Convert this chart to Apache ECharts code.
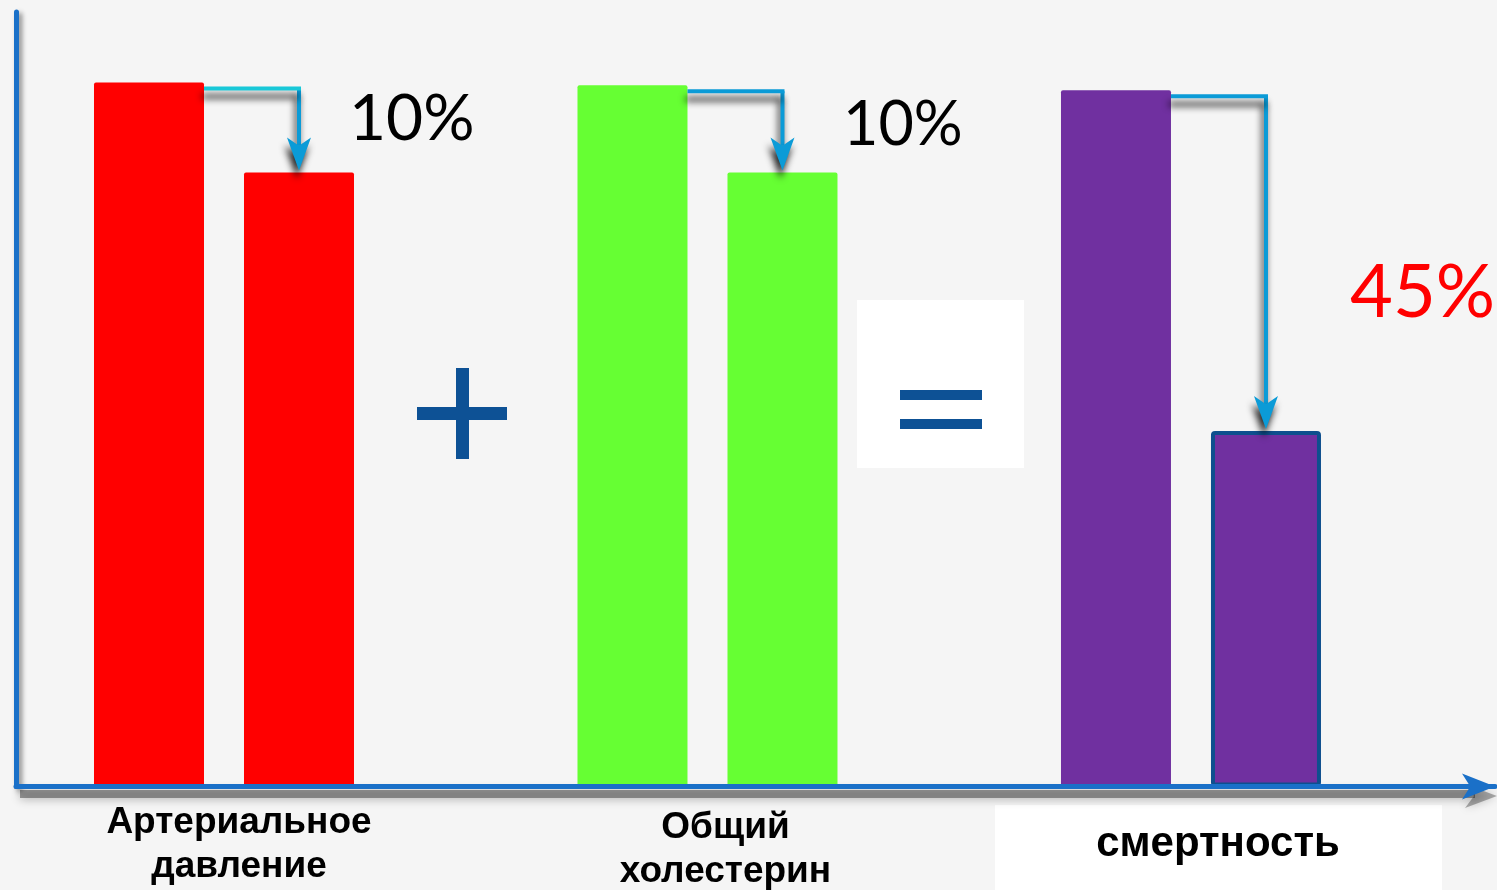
<!DOCTYPE html>
<html>
<head>
<meta charset="utf-8">
<script src="https://cdn.jsdelivr.net/npm/echarts@6/dist/echarts.min.js"></script>
<style>
  html, body { margin: 0; padding: 0; background: #f5f5f5; }
  #chart { width: 1497px; height: 890px; }
</style>
</head>
<body>
<div id="chart"></div>
<script>
// Risk factors and outcome, level before and after the reduction
const categories = ['Артериальное\nдавление', 'Общий\nхолестерин', 'смертность'];
const beforeValues = [100, 99.6, 98.9];
const afterValues = [87.2, 87.2, 50.5];
const reductionLabels = ['10%', '10%', '45%'];

const barColors = ['#ff0000', '#66ff33', '#7030a0'];
const labelColors = ['#000000', '#000000', '#ff0000'];
const AXIS_BLUE = '#1a70c8';
const SIGN_BLUE = '#0d5195';
const ARROW_BLUE = '#0b9bd7';

const BAR_WIDTH = 110;
const BAR_GAP = 40;

const chart = echarts.init(document.getElementById('chart'), null, { renderer: 'canvas' });

const beforeData = beforeValues.map((v, i) => ({
  value: [i, v],
  itemStyle: { color: barColors[i] }
}));
const afterData = afterValues.map((v, i) => ({
  value: [i, v],
  itemStyle: i === 2
    ? { color: barColors[i], borderColor: '#0e4f8e', borderWidth: 4 }
    : { color: barColors[i] }
}));
const connectorData = categories.map((c, i) => [i, beforeValues[i], afterValues[i]]);

// per-category padding shifts the axis name under its pair of bars
const labelRich = {
  c0: { padding: [0, 0, 0, 30] },
  c1: { padding: [10, 0, 0, 36] },
  c2: { padding: [44, 0, 0, 54], fontSize: 42 }
};

const option = {
  backgroundColor: '#f5f5f5',
  animation: false,
  grid: { left: 16, right: 2, top: 12, bottom: 103, containLabel: false },
  xAxis: {
    type: 'value',
    min: -0.4302,
    max: 2.6288,
    z: 4,
    splitLine: { show: false },
    axisTick: { show: false },
    axisLine: {
      show: true,
      onZero: false,
      symbol: ['none', 'arrow'],
      symbolSize: [19.5, 33],
      lineStyle: { color: AXIS_BLUE, width: 5 }
    },
    axisLabel: {
      show: true,
      customValues: [0, 1, 2],
      margin: 14,
      color: '#000',
      fontFamily: 'Liberation Sans',
      fontWeight: 'bold',
      fontSize: 37,
      lineHeight: 44,
      rich: labelRich,
      formatter: function (value) {
        const i = Math.round(value);
        return '{c' + i + '|' + categories[i] + '}';
      }
    }
  },
  yAxis: {
    type: 'value',
    min: 0,
    max: 110,
    z: 4,
    splitLine: { show: false },
    axisTick: { show: false },
    axisLabel: { show: false },
    axisLine: {
      show: true,
      onZero: false,
      lineStyle: {
        color: AXIS_BLUE, width: 5,
        shadowColor: 'rgba(0,0,0,0.45)', shadowBlur: 5, shadowOffsetX: 3, shadowOffsetY: 3
      }
    }
  },
  series: [
    {
      name: 'до',
      type: 'bar',
      barWidth: BAR_WIDTH,
      barGap: (BAR_GAP / BAR_WIDTH * 100) + '%',
      itemStyle: { borderRadius: 2 },
      data: beforeData
    },
    {
      name: 'после',
      type: 'bar',
      barWidth: BAR_WIDTH,
      itemStyle: { borderRadius: 2 },
      data: afterData
    },
    {
      // elbow arrows from the first bar down to the second one
      name: 'снижение',
      type: 'custom',
      z: 5,
      data: connectorData,
      renderItem: function (params, api) {
        const i = api.value(0);
        const p1 = api.coord([i, api.value(1)]);
        const p2 = api.coord([i, api.value(2)]);
        const cx = p1[0];
        const xStart = cx - BAR_GAP / 2;
        const xArrow = cx + (BAR_WIDTH + BAR_GAP) / 2;
        const yH = p1[1] + 6;
        const tip = p2[1] - 2;
        const headLen = 33, half = 12;
        const neck = tip - headLen * 0.75;
        const shadow = {
          shadowColor: 'rgba(0,0,0,0.85)', shadowBlur: 7, shadowOffsetX: -2, shadowOffsetY: 8
        };
        const hColor = i === 0 ? '#18c8d8' : ARROW_BLUE;
        return {
          type: 'group',
          children: [
            {
              type: 'polyline',
              shape: { points: [[xArrow, yH], [xArrow, neck]] },
              style: Object.assign({ stroke: ARROW_BLUE, lineWidth: 4, fill: null }, shadow)
            },
            {
              type: 'polyline',
              shape: { points: [[xStart, yH], [xArrow + 2, yH]] },
              style: Object.assign({ stroke: hColor, lineWidth: 4, fill: null }, shadow)
            },
            {
              type: 'polygon',
              shape: { points: [[xArrow, tip], [xArrow - half, tip - headLen], [xArrow, neck], [xArrow + half, tip - headLen]] },
              style: Object.assign({ fill: ARROW_BLUE }, shadow)
            }
          ]
        };
      }
    }
  ],
  graphic: [
    // white panels behind the equals sign and the outcome name
    { type: 'rect', z: -10, shape: { x: 857, y: 300, width: 167, height: 168 }, style: { fill: '#ffffff' } },
    { type: 'rect', z: -10, shape: { x: 995, y: 805, width: 447, height: 85 }, style: { fill: '#ffffff' } },
    // soft drop shadow under the horizontal axis
    {
      type: 'rect', z: -5,
      shape: { x: 20, y: 790, width: 1455, height: 8 },
      style: { fill: 'rgba(60,60,60,0.5)', shadowColor: 'rgba(0,0,0,0.6)', shadowBlur: 10, shadowOffsetY: 1 }
    },
    {
      type: 'polygon', z: -5,
      shape: { points: [[1465, 784], [1497, 796], [1465, 808], [1474, 796]] },
      style: { fill: 'rgba(0,0,0,0.3)', shadowColor: 'rgba(0,0,0,0.7)', shadowBlur: 10 }
    },
    // plus sign
    { type: 'rect', shape: { x: 417, y: 407, width: 90, height: 13 }, style: { fill: SIGN_BLUE } },
    { type: 'rect', shape: { x: 456, y: 368, width: 13, height: 91 }, style: { fill: SIGN_BLUE } },
    // equals sign
    { type: 'rect', shape: { x: 900, y: 390, width: 82, height: 10 }, style: { fill: SIGN_BLUE } },
    { type: 'rect', shape: { x: 900, y: 419, width: 82, height: 10 }, style: { fill: SIGN_BLUE } },
    // reduction percentages
    { type: 'text', x: 349, y: 119, style: { text: reductionLabels[0], fill: labelColors[0], font: '64px Lato', textAlign: 'left', textVerticalAlign: 'middle' } },
    { type: 'text', x: 843, y: 125, style: { text: reductionLabels[1], fill: labelColors[1], font: '61px Lato', textAlign: 'left', textVerticalAlign: 'middle' } },
    { type: 'text', x: 1350, y: 293, style: { text: reductionLabels[2], fill: labelColors[2], font: '74px Lato', textAlign: 'left', textVerticalAlign: 'middle' } }
  ]
};

chart.setOption(option);
</script>
</body>
</html>
